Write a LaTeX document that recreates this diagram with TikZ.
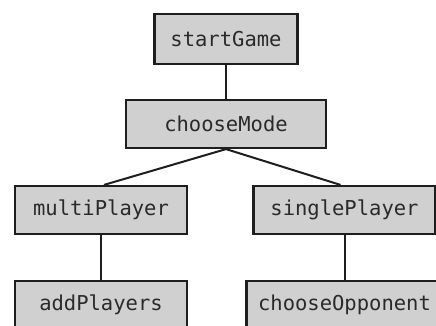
\documentclass[tikz,border=0pt]{standalone}
\usepackage{fontspec}
\setmonofont{DejaVu Sans Mono}
\definecolor{boxfill}{HTML}{D0D0D0}
\definecolor{boxline}{HTML}{1E1E1E}
\definecolor{boxtext}{HTML}{2A2A2A}
\begin{document}
\begin{tikzpicture}[x=1pt,y=-1pt,
  box/.style={draw=boxline,fill=boxfill,line width=2.2pt,rectangle,inner sep=0pt,
    minimum height=48pt,text=boxtext,font=\ttfamily\fontsize{20.5}{24}\selectfont},
  link/.style={draw=boxline,line width=2pt}]
\useasboundingbox (0,0) rectangle (436,326);
\clip (0,0) rectangle (436,326);
\node[box,minimum width=143pt,minimum height=50pt] (start) at (226,39) {startGame};
\node[box,minimum width=200pt] (mode) at (226,124) {chooseMode};
\node[box,minimum width=172pt] (multi) at (101,210) {multiPlayer};
\node[box,minimum width=182pt] (single) at (344.5,210) {singlePlayer};
\node[box,minimum width=172pt] (add) at (101,305) {addPlayers};
\node[box,minimum width=196pt] (opp) at (344.5,305) {chooseOpponent};
\draw[link] (start.south) -- (mode.north);
\draw[link] (mode.south) -- ([xshift=3pt]multi.north);
\draw[link] (mode.south) -- ([xshift=-4pt]single.north);
\draw[link] (multi.south) -- (add.north);
\draw[link] (single.south) -- (single.south |- opp.north);
\end{tikzpicture}
\end{document}
